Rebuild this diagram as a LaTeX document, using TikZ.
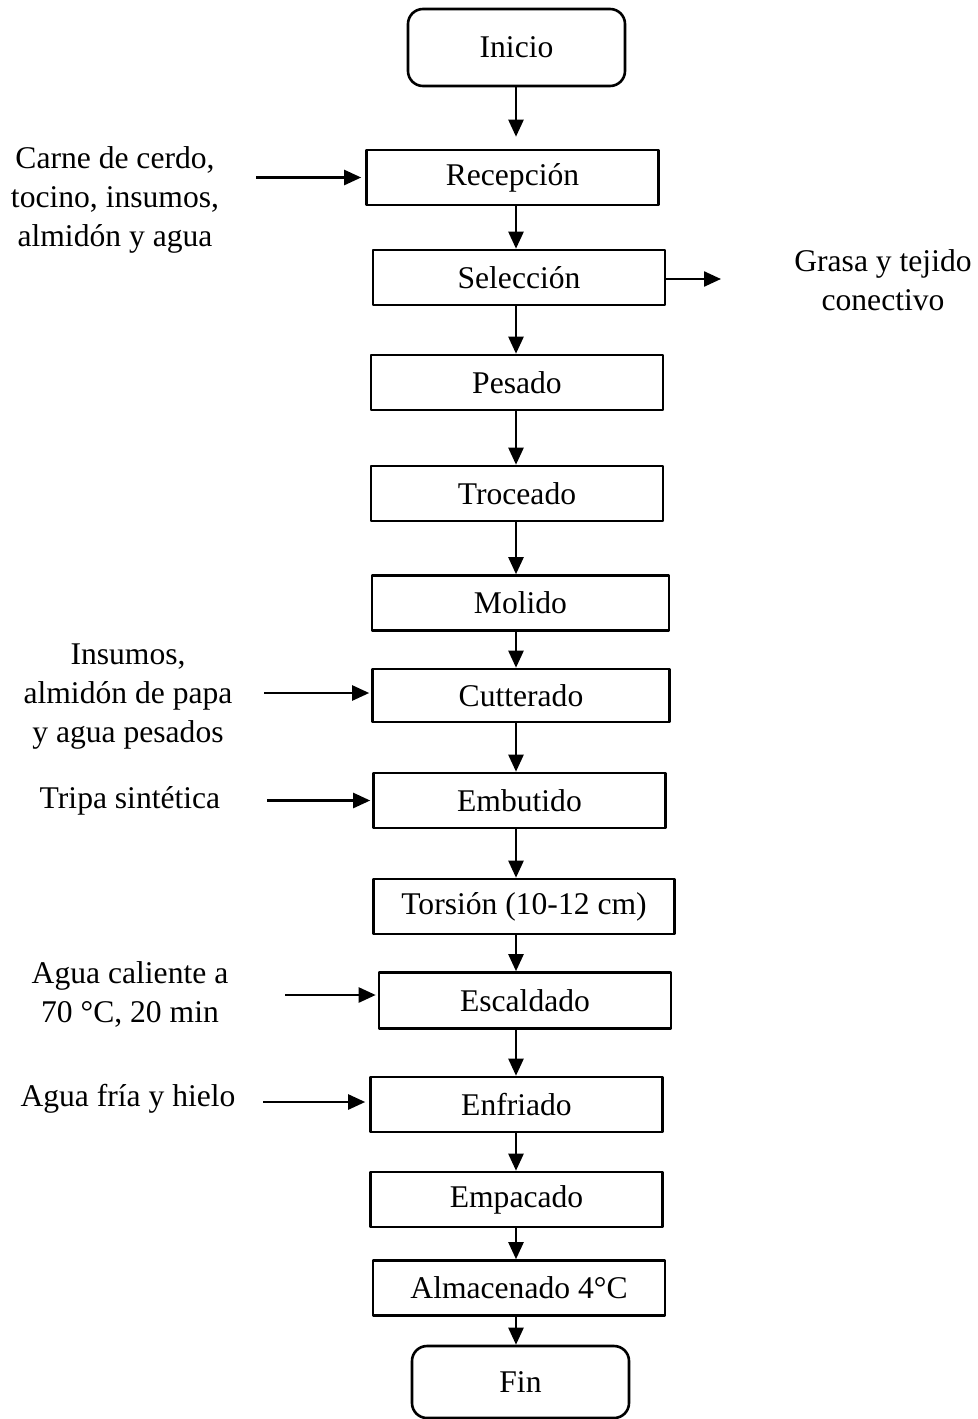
\documentclass[tikz,border=0pt]{standalone}
\usepackage{fontspec}
\setmainfont{Liberation Serif}
\usetikzlibrary{arrows.meta}

\begin{document}
\begin{tikzpicture}[x=0.5pt,y=-0.5pt,font=\fontsize{15.8}{19.5}\selectfont, line join=round, >={Triangle[length=8.5pt,width=7.5pt]}]
	\tikzset{paso/.style={draw,line width=1.3pt,minimum width=146pt,minimum height=27.5pt,inner sep=0pt},
		extremo/.style={paso,rounded corners=7.5pt,minimum width=108.5pt},
		flecha/.style={->,line width=1.2pt},
		nota/.style={align=center,inner sep=0pt}}
	\useasboundingbox (0,0) rectangle (978,1419);
	% etapas del proceso
	\node[extremo,minimum height=38.5pt] (ini) at (516.5,47.5) {Inicio};
	\node[paso] (rec) at (512.5,177.5) {Recepción};
	\node[paso] (sel) at (519,277.5) {Selección};
	\node[paso] (pes) at (517,382.5) {Pesado};
	\node[paso] (tro) at (517,493.5) {Troceado};
	\node[paso,minimum width=148.5pt] (mol) at (520.5,603) {Molido};
	\node[paso,minimum width=148.5pt,minimum height=26.5pt] (cut) at (521,695.5) {Cutterado};
	\node[paso] (emb) at (519.5,800.5) {Embutido};
	\node[paso,minimum width=150.5pt] (tor) at (524,906.5) {Torsión (10-12 cm)};
	\node[paso,minimum height=28pt] (esc) at (525,1000.5) {Escaldado};
	\node[paso] (enf) at (516.5,1104.5) {Enfriado};
	\node[paso] (emp) at (516.5,1199.5) {Empacado};
	\node[paso] (alm) at (519,1288) {Almacenado 4°C};
	\node[extremo,minimum height=36pt] (fin) at (520.5,1382) {Fin};
	% entradas y salidas
	\node[nota] (car) at (115,200) {Carne de cerdo,\\tocino, insumos,\\almidón y agua};
	\node[nota] (ins) at (128,697) {Insumos,\\almidón de papa\\y agua pesados};
	\node[nota] (tri) at (130,801) {Tripa sintética};
	\node[nota] (agc) at (130,994) {Agua caliente a\\70 °C, 20 min};
	\node[nota] (agf) at (128,1099) {Agua fría y hielo};
	\node[nota] (gra) at (883,280) {Grasa y tejido\\conectivo};
	\coordinate (eje) at (516,0);
	\coordinate (c1) at (256,177.5);
	\coordinate (c2) at (264,693);
	\coordinate (c3) at (267,800.5);
	\coordinate (c4) at (285,995);
	\coordinate (c5) at (263,1102);
	\coordinate (c6) at (721,279);
	% flechas
	\draw[flecha,shorten >=6pt] (eje |- ini.south) -- (eje |- rec.north);
	\foreach \a/\b in {rec/sel,sel/pes,pes/tro,tro/mol,mol/cut,cut/emb,emb/tor,tor/esc,esc/enf,enf/emp,emp/alm,alm/fin}
		\draw[flecha] (eje |- \a.south) -- (eje |- \b.north);
	\draw[flecha,shorten >=2pt] (c1) -- (rec.west);
	\draw[flecha,shorten >=1pt] (c2) -- (c2 -| cut.west);
	\draw[flecha,shorten >=1pt] (c3) -- (emb.west);
	\draw[flecha,shorten >=1pt] (c4) -- (c4 -| esc.west);
	\draw[flecha,shorten >=2pt] (c5) -- (c5 -| enf.west);
	\draw[flecha] (sel.east |- c6) -- (c6);
\end{tikzpicture}
\end{document}
